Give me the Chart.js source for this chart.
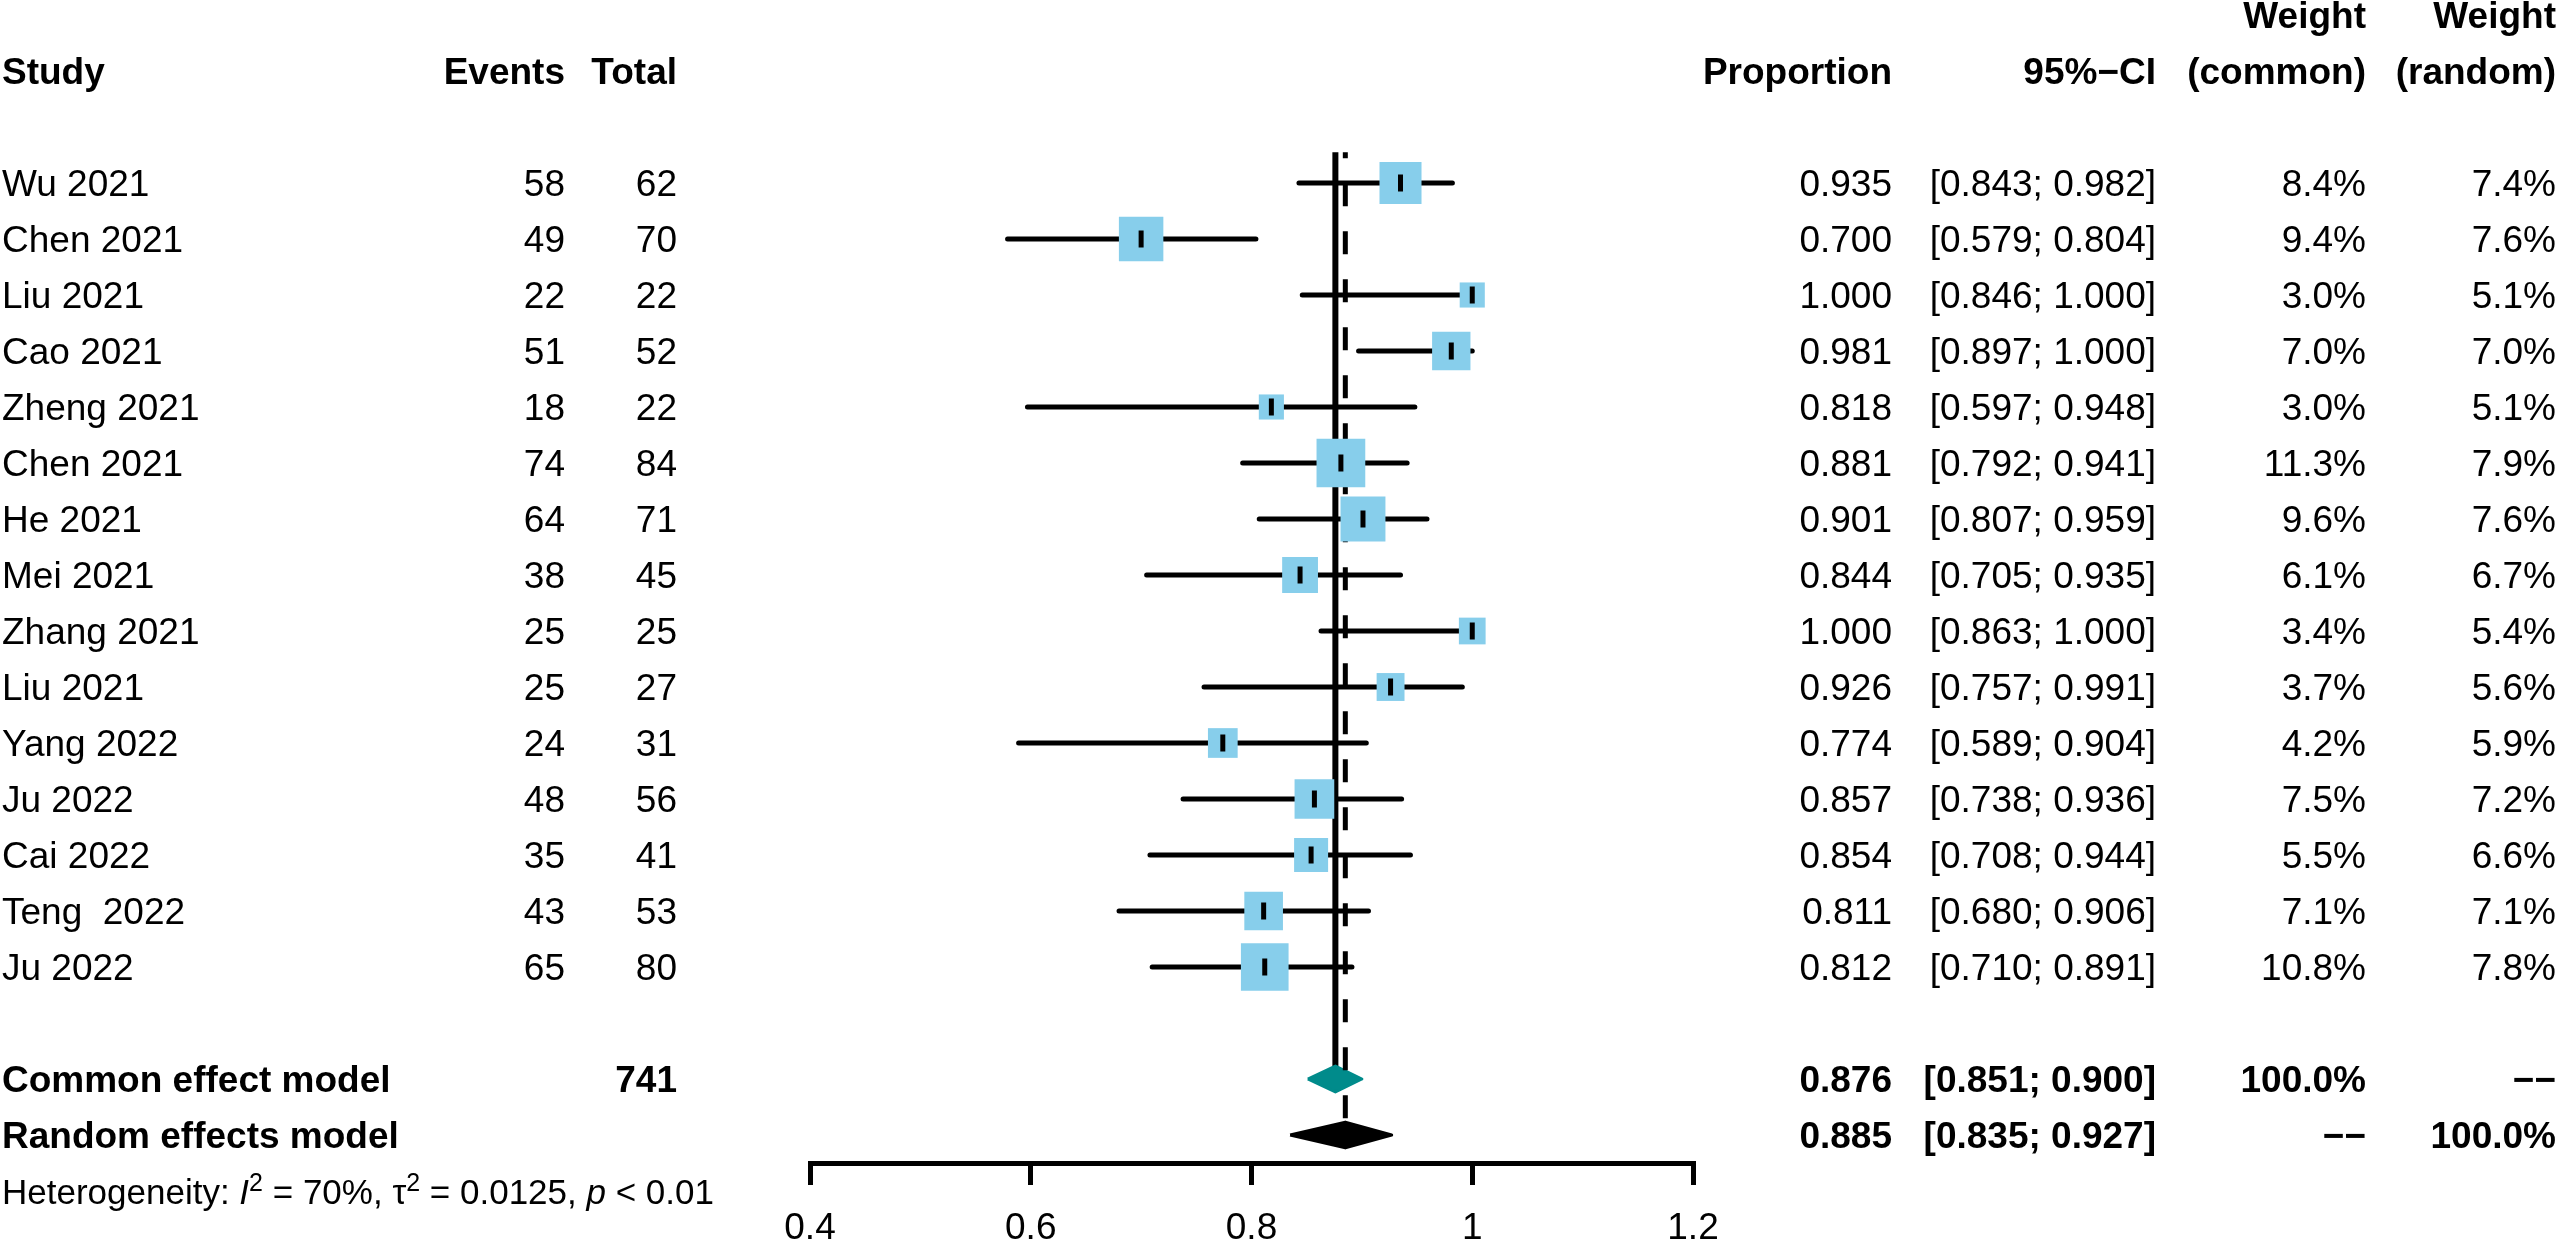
<!DOCTYPE html>
<html>
<head>
<meta charset="utf-8">
<title>Forest plot</title>
<script src="https://cdn.jsdelivr.net/npm/chart.js@4.4.1/dist/chart.umd.min.js"></script>
<style>
  html, body { margin: 0; padding: 0; background: #fff; overflow: hidden; }
  #wrap { width: 2559px; height: 1243px; }
</style>
</head>
<body>
<div id="wrap"><canvas id="chart" width="2559" height="1243"></canvas></div>
<script>
// study data
const studies = ['Wu 2021', 'Chen 2021', 'Liu 2021', 'Cao 2021', 'Zheng 2021', 'Chen 2021', 'He 2021',
  'Mei 2021', 'Zhang 2021', 'Liu 2021', 'Yang 2022', 'Ju 2022', 'Cai 2022', 'Teng  2022', 'Ju 2022'];
const events = [58, 49, 22, 51, 18, 74, 64, 38, 25, 25, 24, 48, 35, 43, 65];
const totals = [62, 70, 22, 52, 22, 84, 71, 45, 25, 27, 31, 56, 41, 53, 80];
const proportion = [0.935, 0.700, 1.000, 0.981, 0.818, 0.881, 0.901, 0.844, 1.000, 0.926, 0.774, 0.857, 0.854, 0.811, 0.812];
const lower = [0.843, 0.579, 0.846, 0.897, 0.597, 0.792, 0.807, 0.705, 0.863, 0.757, 0.589, 0.738, 0.708, 0.680, 0.710];
const upper = [0.982, 0.804, 1.000, 1.000, 0.948, 0.941, 0.959, 0.935, 1.000, 0.991, 0.904, 0.936, 0.944, 0.906, 0.891];
const weightCommon = [8.4, 9.4, 3.0, 7.0, 3.0, 11.3, 9.6, 6.1, 3.4, 3.7, 4.2, 7.5, 5.5, 7.1, 10.8];
const weightRandom = [7.4, 7.6, 5.1, 7.0, 5.1, 7.9, 7.6, 6.7, 5.4, 5.6, 5.9, 7.2, 6.6, 7.1, 7.8];

// pooled estimates: [estimate, lower, upper]
const commonModel = [0.876, 0.851, 0.900];
const randomModel = [0.885, 0.835, 0.927];
const totalN = 741;
const hetI2 = '70%';
const hetTau2 = '0.0125';
const hetP = '< 0.01';

// axis
const xTicks = [0.4, 0.6, 0.8, 1, 1.2];
const xTickLabels = ['0.4', '0.6', '0.8', '1', '1.2'];

const FONT = '"Liberation Sans", Arial, Helvetica, sans-serif';
const ROW_COMMON = studies.length + 1;
const ROW_RANDOM = studies.length + 2;
const ROW_HET = studies.length + 3;
const SQUARE_K = 14.5;   // square side = k * sqrt(weight)
const DIAMOND_H = 0.23;  // half height of diamond in rows

const datasets = [];
let drawIdx = 0;
function add(ds) {
  ds.order = -(drawIdx++);  // first added is drawn first
  datasets.push(ds);
}

function diamond(m, row, color) {
  return {
    data: [
      { x: m[1], y: row }, { x: m[0], y: row - DIAMOND_H }, { x: m[2], y: row },
      { x: m[0], y: row + DIAMOND_H }, { x: m[1], y: row }
    ],
    borderColor: color, backgroundColor: color, borderWidth: 3, borderJoinStyle: 'round',
    fill: 'shape', pointRadius: 0, tension: 0
  };
}

// common effect line + diamond
add({
  data: [{ x: commonModel[0], y: -0.55 }, { x: commonModel[0], y: ROW_COMMON }],
  borderColor: '#000', borderWidth: 6, pointRadius: 0, fill: false
});
add(diamond(commonModel, ROW_COMMON, '#008B8B'));

// random effects line (dashed)
add({
  data: [{ x: randomModel[0], y: -0.55 }, { x: randomModel[0], y: ROW_RANDOM }],
  borderColor: '#000', borderWidth: 5, borderDash: [23, 25], borderDashOffset: 17,
  pointRadius: 0, fill: false
});

// confidence intervals
studies.forEach((s, i) => {
  add({
    data: [{ x: lower[i], y: i }, { x: upper[i], y: i }],
    borderColor: '#000', borderWidth: 5, borderCapStyle: 'round', pointRadius: 0, fill: false
  });
});

const points = proportion.map((p, i) => ({ x: p, y: i }));

// weight squares
add({
  data: points, showLine: false, pointStyle: 'rect',
  pointRadius: weightCommon.map(w => SQUARE_K * Math.sqrt(w) / Math.SQRT2),
  pointBackgroundColor: '#87CEEB', pointBorderWidth: 0, borderWidth: 0
});

// estimate ticks
add({
  data: points, showLine: false, pointStyle: 'line', pointRotation: 90,
  pointRadius: 8.5, pointBorderColor: '#000', pointBorderWidth: 5
});

add(diamond(randomModel, ROW_RANDOM, '#000000'));

// table text
const COL = { study: 2, events: 565, total: 677, prop: 1892, ci: 2156, wc: 2366, wr: 2556 };

const tablePlugin = {
  id: 'forestTable',
  afterDraw(chart) {
    const ctx = chart.ctx;
    const ys = chart.scales.y;
    const base = r => ys.getPixelForValue(r) + 13;

    function txt(s, x, r, align, bold) {
      ctx.font = (bold ? 'bold ' : '') + '37px ' + FONT;
      ctx.textAlign = align;
      ctx.textBaseline = 'alphabetic';
      ctx.fillStyle = '#000';
      ctx.fillText(s, x, base(r));
    }
    ctx.save();

    // headers
    txt('Weight', COL.wc, -3, 'right', true);
    txt('Weight', COL.wr, -3, 'right', true);
    txt('Study', COL.study, -2, 'left', true);
    txt('Events', COL.events, -2, 'right', true);
    txt('Total', COL.total, -2, 'right', true);
    txt('Proportion', COL.prop, -2, 'right', true);
    txt('95%\u2212CI', COL.ci, -2, 'right', true);
    txt('(common)', COL.wc, -2, 'right', true);
    txt('(random)', COL.wr, -2, 'right', true);

    // studies
    studies.forEach((s, i) => {
      txt(s, COL.study, i, 'left', false);
      txt(String(events[i]), COL.events, i, 'right', false);
      txt(String(totals[i]), COL.total, i, 'right', false);
      txt(proportion[i].toFixed(3), COL.prop, i, 'right', false);
      txt('[' + lower[i].toFixed(3) + '; ' + upper[i].toFixed(3) + ']', COL.ci, i, 'right', false);
      txt(weightCommon[i].toFixed(1) + '%', COL.wc, i, 'right', false);
      txt(weightRandom[i].toFixed(1) + '%', COL.wr, i, 'right', false);
    });

    // pooled rows
    txt('Common effect model', COL.study, ROW_COMMON, 'left', true);
    txt(String(totalN), COL.total, ROW_COMMON, 'right', true);
    txt(commonModel[0].toFixed(3), COL.prop, ROW_COMMON, 'right', true);
    txt('[' + commonModel[1].toFixed(3) + '; ' + commonModel[2].toFixed(3) + ']', COL.ci, ROW_COMMON, 'right', true);
    txt('100.0%', COL.wc, ROW_COMMON, 'right', true);
    txt('\u2212\u2212', COL.wr, ROW_COMMON, 'right', true);

    txt('Random effects model', COL.study, ROW_RANDOM, 'left', true);
    txt(randomModel[0].toFixed(3), COL.prop, ROW_RANDOM, 'right', true);
    txt('[' + randomModel[1].toFixed(3) + '; ' + randomModel[2].toFixed(3) + ']', COL.ci, ROW_RANDOM, 'right', true);
    txt('\u2212\u2212', COL.wc, ROW_RANDOM, 'right', true);
    txt('100.0%', COL.wr, ROW_RANDOM, 'right', true);

    // heterogeneity line
    const hs = 35;
    const parts = [
      ['Heterogeneity: ', ''], ['I', 'italic '], ['2', 'sup'], [' = ' + hetI2 + ', ', ''],
      ['\u03c4', ''], ['2', 'sup'], [' = ' + hetTau2 + ', ', ''], ['p', 'italic '], [' ' + hetP, '']
    ];
    let x = COL.study;
    const by = base(ROW_HET);
    ctx.textAlign = 'left';
    parts.forEach(([s, st]) => {
      let yy = by;
      if (st === 'sup') {
        ctx.font = Math.round(hs * 0.7) + 'px ' + FONT;
        yy = by - 13;
      } else {
        ctx.font = st + hs + 'px ' + FONT;
      }
      ctx.fillText(s, x, yy);
      x += ctx.measureText(s).width;
    });
    ctx.restore();
  }
};

new Chart(document.getElementById('chart'), {
  type: 'line',
  data: { datasets: datasets },
  options: {
    responsive: false,
    devicePixelRatio: 1,
    animation: false,
    layout: { padding: { left: 810, right: 866, top: 43, bottom: 0 } },
    plugins: { legend: { display: false }, tooltip: { enabled: false } },
    scales: {
      x: {
        type: 'linear', position: 'bottom', min: 0.4, max: 1.2,
        afterBuildTicks: s => { s.ticks = xTicks.map(v => ({ value: v })); },
        afterFit: s => { s.height = 80; },
        grid: { drawOnChartArea: false, drawTicks: true, tickLength: 22, lineWidth: 5, color: '#000' },
        border: { display: true, color: '#000', width: 5 },
        ticks: {
          color: '#000', font: { family: FONT, size: 37 }, padding: 22,
          autoSkip: false, maxRotation: 0,
          callback: (v, i) => xTickLabels[i]
        }
      },
      y: { type: 'linear', reverse: true, min: -2.5, max: 17.5, display: false }
    }
  },
  plugins: [tablePlugin]
});
</script>
</body>
</html>
